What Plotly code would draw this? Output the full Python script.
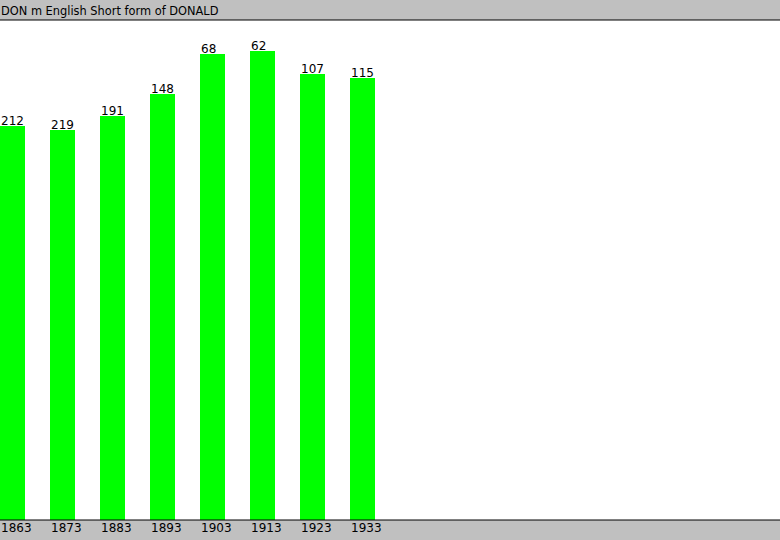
import plotly.graph_objects as go

title_text = "DON m English Short form of DONALD"
years = ["1863", "1873", "1883", "1893", "1903", "1913", "1923", "1933"]
ranks = [212, 219, 191, 148, 68, 62, 107, 115]
max_rank = 1000

positions = list(range(len(years)))
heights = [max_rank - r for r in ranks]

font_family = "DejaVu Sans, Lucida Grande, sans-serif"

fig = go.Figure()
fig.add_trace(go.Bar(
    x=positions, y=heights, width=0.5,
    marker=dict(color="#00ff00", line=dict(width=0)),
    hoverinfo="skip",
))

annotations = []
for p, r, h in zip(positions, ranks, heights):
    annotations.append(dict(
        x=p - 0.25, y=h, xref="x", yref="y", text=str(r), showarrow=False,
        xanchor="left", yanchor="bottom", borderpad=0, yshift=-3,
        font=dict(family=font_family, size=12, color="black"),
    ))
for p, yr in zip(positions, years):
    annotations.append(dict(
        x=p - 0.25, y=0, xref="x", yref="paper", text=yr, showarrow=False,
        xanchor="left", yanchor="top", borderpad=0, yshift=0,
        font=dict(family=font_family, size=12, color="black"),
    ))
annotations.append(dict(
    x=0, y=1, xref="paper", yref="paper", text=title_text, showarrow=False,
    xanchor="left", yanchor="bottom", borderpad=0, yshift=1,
    font=dict(family=font_family, size=11.4, color="black"),
))

fig.update_layout(
    width=780, height=540,
    margin=dict(l=0, r=0, t=20, b=20, pad=0),
    paper_bgcolor="#c0c0c0",
    plot_bgcolor="white",
    showlegend=False,
    bargap=0,
    xaxis=dict(range=[-0.25, 15.35], visible=False, fixedrange=True),
    yaxis=dict(range=[0, max_rank], visible=False, fixedrange=True),
    annotations=annotations,
    shapes=[
        dict(type="line", xref="paper", yref="paper", x0=0, x1=1, y0=1, y1=1,
             line=dict(color="black", width=1)),
        dict(type="line", xref="paper", yref="paper", x0=0, x1=1, y0=0, y1=0,
             line=dict(color="black", width=1)),
    ],
)

fig.write_html(
    "out.html",
    config={"displayModeBar": False},
    post_script="document.body.style.margin='0';document.body.style.overflow='hidden';",
)
